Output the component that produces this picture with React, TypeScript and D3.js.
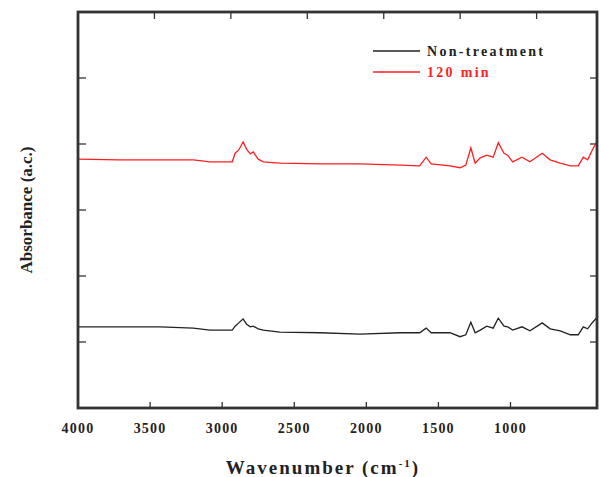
import React, { useEffect, useRef } from 'react';
import * as d3 from 'd3';

// wavenumbers (cm-1) sampled along both spectra
const wavenumbers = [4000, 3710, 3430, 3200, 3085, 2930, 2910, 2885, 2855, 2830, 2805, 2785, 2750, 2715, 2600, 2320, 2045, 1765, 1630, 1585, 1550, 1420, 1350, 1310, 1275, 1245, 1210, 1165, 1120, 1085, 1045, 1020, 985, 920, 865, 780, 725, 655, 585, 530, 495, 465, 430, 405];
const treated120 = [3.77, 3.76, 3.76, 3.76, 3.73, 3.73, 3.86, 3.91, 4.03, 3.92, 3.85, 3.88, 3.77, 3.73, 3.71, 3.70, 3.70, 3.68, 3.67, 3.80, 3.70, 3.67, 3.64, 3.68, 3.94, 3.71, 3.79, 3.83, 3.80, 4.02, 3.86, 3.83, 3.73, 3.80, 3.73, 3.86, 3.76, 3.71, 3.67, 3.67, 3.80, 3.76, 3.92, 4.02];
const nonTreatment = [1.23, 1.23, 1.23, 1.21, 1.18, 1.18, 1.24, 1.29, 1.35, 1.27, 1.23, 1.24, 1.20, 1.18, 1.15, 1.14, 1.12, 1.14, 1.14, 1.21, 1.14, 1.14, 1.08, 1.11, 1.30, 1.14, 1.18, 1.24, 1.21, 1.36, 1.24, 1.23, 1.18, 1.23, 1.17, 1.29, 1.20, 1.17, 1.11, 1.11, 1.23, 1.20, 1.30, 1.36];
const xTicks = [4000, 3500, 3000, 2500, 2000, 1500, 1000];
const yTicks = [1, 2, 3, 4, 5];

const App = () => {
  const svgRef = useRef(null);
  const width = 601;
  const height = 477;
  const margin = { top: 12, right: 4, bottom: 69, left: 78 };

  useEffect(() => {
    document.body.style.margin = '0';
    d3.select(svgRef.current).selectAll('*').remove();

    const svg = d3.select(svgRef.current)
      .attr('width', width)
      .attr('height', height)
      .style('background', '#ffffff');

    const x = d3.scaleLinear().domain([4000, 400]).range([margin.left, width - margin.right]);
    const y = d3.scaleLinear().domain([0, 6]).range([height - margin.bottom, margin.top]);
    // top ticks in the original are spaced a little wider than the bottom ones
    const xTop = d3.scaleLinear().domain([0, 6.79]).range([margin.left, width - margin.right]);

    const font = '"Liberation Serif", "Times New Roman", serif';
    const frameColor = '#333333';
    const x0 = margin.left, x1 = width - margin.right;
    const y0 = height - margin.bottom, y1 = margin.top;

    // ticks (inward)
    const ticks = svg.append('g').attr('stroke', frameColor).attr('stroke-width', 1.3);
    xTicks.slice(1).forEach(t => {
      ticks.append('line').attr('x1', x(t)).attr('x2', x(t)).attr('y1', y0).attr('y2', y0 - 6);
    });
    [1, 2, 3, 4, 5, 6].forEach(t => {
      ticks.append('line').attr('x1', xTop(t)).attr('x2', xTop(t)).attr('y1', y1).attr('y2', y1 + 7);
    });
    yTicks.forEach(t => {
      ticks.append('line').attr('x1', x0).attr('x2', x0 + 8).attr('y1', y(t)).attr('y2', y(t));
      ticks.append('line').attr('x1', x1).attr('x2', x1 - 7).attr('y1', y(t)).attr('y2', y(t));
    });

    // spectra
    const line = d3.line()
      .x((d, i) => x(wavenumbers[i]))
      .y(d => y(d));

    svg.append('path')
      .datum(treated120)
      .attr('d', line)
      .attr('fill', 'none')
      .attr('stroke', '#ff1f1f')
      .attr('stroke-width', 1.3);

    svg.append('path')
      .datum(nonTreatment)
      .attr('d', line)
      .attr('fill', 'none')
      .attr('stroke', '#222222')
      .attr('stroke-width', 1.3);

    // frame
    svg.append('rect')
      .attr('x', x0)
      .attr('y', y1)
      .attr('width', x1 - x0)
      .attr('height', y0 - y1)
      .attr('fill', 'none')
      .attr('stroke', frameColor)
      .attr('stroke-width', 2.8);

    // x tick labels
    svg.append('g')
      .selectAll('text')
      .data(xTicks)
      .enter()
      .append('text')
      .attr('x', d => x(d))
      .attr('y', 433)
      .attr('text-anchor', 'middle')
      .style('font-family', font)
      .style('font-weight', 'bold')
      .style('font-size', '14px')
      .style('letter-spacing', '1.2px')
      .attr('fill', '#222')
      .text(d => d);

    // axis titles
    const xt = svg.append('text')
      .attr('x', 323)
      .attr('y', 474)
      .attr('text-anchor', 'middle')
      .style('font-family', font)
      .style('font-weight', 'bold')
      .style('font-size', '19px')
      .style('letter-spacing', '2px')
      .attr('fill', '#222');
    xt.append('tspan').text('Wavenumber (cm');
    xt.append('tspan').attr('dy', -7).style('font-size', '11px').text('-1');
    xt.append('tspan').attr('dy', 7).text(')');

    svg.append('text')
      .attr('transform', `translate(32,${(y0 + y1) / 2}) rotate(-90)`)
      .attr('text-anchor', 'middle')
      .style('font-family', font)
      .style('font-weight', 'bold')
      .style('font-size', '17px')
      .attr('fill', '#222')
      .text('Absorbance (a.c.)');

    // legend
    const legend = [
      { label: 'Non-treatment', color: '#222222', textColor: '#222222' },
      { label: '120 min', color: '#ff1f1f', textColor: '#ff1f1f' }
    ];
    legend.forEach((d, i) => {
      const ly = 51 + i * 21;
      svg.append('line')
        .attr('x1', 373).attr('x2', 420)
        .attr('y1', ly).attr('y2', ly)
        .attr('stroke', d.color)
        .attr('stroke-width', 1.3);
      svg.append('text')
        .attr('x', 427)
        .attr('y', ly + 5)
        .style('font-family', font)
        .style('font-weight', 'bold')
        .style('font-size', '14px')
        .style('letter-spacing', '2.3px')
        .attr('fill', d.textColor)
        .text(d.label);
    });
  }, []);

  return (
    <svg ref={svgRef} style={{ display: 'block', position: 'absolute', left: 0, top: 0 }}></svg>
  );
};

export default App;
